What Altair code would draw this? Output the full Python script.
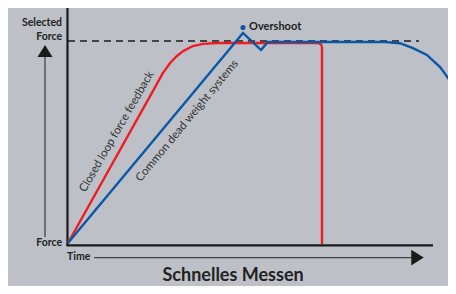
import altair as alt
import pandas as pd

BG = "#bdc1c7"
RED = "#ee1c25"
BLUE = "#0a57a7"
INK = "#222222"
FONT = "Lato"

# ---- data (Time in arbitrary units, Force in % of selected force) ----
red_time = [0, 34.3, 37.4, 40.2, 42.9, 45.3, 49.2, 53.1, 58.7, 98.4, 99.6, 100, 100]
red_force = [0, 77.2, 84.2, 89.1, 92.6, 95.0, 97.5, 98.6, 99.0, 99.0, 98.3, 97.0, -0.5]
blue_time = [0, 68.9, 76.0, 78.7, 124.8, 130.7, 135.8, 141.3, 146.5, 151.6, 154.3]
blue_force = [0, 104.0, 95.5, 99.5, 99.5, 98.9, 96.5, 93.1, 87.1, 78.2, 73.3]
selected_force = 100
dash_end_time = 138.2
overshoot_time = 68.9
overshoot_force = 106.7

X_DOMAIN = [-23.62, 149.61]
Y_DOMAIN = [-21.29, 116.34]

xs = alt.Scale(domain=X_DOMAIN, nice=False, zero=False)
ys = alt.Scale(domain=Y_DOMAIN, nice=False, zero=False)


def X(f="t"):
    return alt.X(f"{f}:Q", scale=xs, axis=None)


def Y(f="F"):
    return alt.Y(f"{f}:Q", scale=ys, axis=None)


red_df = pd.DataFrame({"t": red_time, "F": red_force, "i": range(len(red_time))})
blue_df = pd.DataFrame({"t": blue_time, "F": blue_force, "i": range(len(blue_time))})

red = alt.Chart(red_df).mark_line(color=RED, strokeWidth=2.4, clip=True, strokeJoin="round").encode(
    x=X(), y=Y(), order="i:Q")
blue = alt.Chart(blue_df).mark_line(color=BLUE, strokeWidth=2.4, clip=True, strokeJoin="miter").encode(
    x=X(), y=Y(), order="i:Q")

dash_df = pd.DataFrame({"t": [0], "t2": [dash_end_time], "F": [selected_force]})
dash = alt.Chart(dash_df).mark_rule(color="#1a1a1a", strokeWidth=1.3, strokeDash=[7, 5]).encode(
    x=X(), x2="t2:Q", y=Y())

axes_df = pd.DataFrame({
    "t": [-0.2, -0.6], "t2": [-0.2, 143.7],
    "F": [-1.5, -1.2], "F2": [117.0, -1.2],
})
axes = alt.Chart(axes_df).mark_rule(color="#1a1a1a", strokeWidth=2.2, clip=True).encode(
    x=X(), x2="t2:Q", y=Y(), y2="F2:Q")

shaft_df = pd.DataFrame({
    "t": [-9.06, 10.2], "t2": [-9.06, 135.4],
    "F": [92.1, -7.2], "F2": [3.0, -7.2],
})
shafts = alt.Chart(shaft_df).mark_rule(color="#444444", strokeWidth=1.3).encode(
    x=X(), x2="t2:Q", y=Y(), y2="F2:Q")

up_df = pd.DataFrame({"t": [-9.06], "F": [95.0]})
up_head = alt.Chart(up_df).mark_point(
    shape="M0,-0.8L1,0.8L-1,0.8Z", filled=True, size=225, color="#1a1a1a", opacity=1).encode(x=X(), y=Y())
right_df = pd.DataFrame({"t": [137.6], "F": [-7.2]})
right_head = alt.Chart(right_df).mark_point(
    shape="M0.8,0L-0.8,-1L-0.8,1Z", filled=True, size=246, color="#1a1a1a", opacity=1).encode(x=X(), y=Y())

dot_df = pd.DataFrame({"t": [overshoot_time], "F": [overshoot_force]})
dot = alt.Chart(dot_df).mark_circle(color=BLUE, size=26, opacity=1).encode(x=X(), y=Y())

# labels
left_labels = pd.DataFrame({
    "t": [-2.36, -2.36, -2.36],
    "F": [108.9, 102.2, 0.0],
    "txt": ["Selected", "Force", "Force"],
})
left_text = alt.Chart(left_labels).mark_text(
    align="right", baseline="middle", font=FONT, fontWeight="bold", fontSize=10.5, color=INK).encode(
    x=X(), y=Y(), text="txt:N")

time_df = pd.DataFrame({"t": [-0.4], "F": [-6.9], "txt": ["Time"]})
time_text = alt.Chart(time_df).mark_text(
    align="left", baseline="middle", font=FONT, fontWeight="bold", fontSize=10.5, color=INK).encode(
    x=X(), y=Y(), text="txt:N")

over_df = pd.DataFrame({"t": [71.3], "F": [106.9], "txt": ["Overshoot"]})
over_text = alt.Chart(over_df).mark_text(
    align="left", baseline="middle", font=FONT, fontWeight="bold", fontSize=11, color=INK).encode(
    x=X(), y=Y(), text="txt:N")

closed_df = pd.DataFrame({"t": [19.3], "F": [55.0], "txt": ["Closed loop force feedback"]})
closed_text = alt.Chart(closed_df).mark_text(
    align="center", baseline="middle", font=FONT, fontSize=11.5, angle=300, color="#333333").encode(
    x=X(), y=Y(), text="txt:N")

common_df = pd.DataFrame({"t": [47.0], "F": [60.4], "txt": ["Common dead weight systems"]})
common_text = alt.Chart(common_df).mark_text(
    align="center", baseline="middle", font=FONT, fontSize=11.5, angle=309.5, color="#333333").encode(
    x=X(), y=Y(), text="txt:N")

title_df = pd.DataFrame({"t": [65.0], "F": [-18.8], "txt": ["Schnelles Messen"]})
title_text = alt.Chart(title_df).mark_text(
    align="center", baseline="alphabetic", font=FONT, fontWeight="bold", fontSize=18, color=INK).encode(
    x=X(), y=Y(), text="txt:N")

chart = alt.layer(
    dash, axes, shafts, up_head, right_head, red, blue, dot,
    left_text, time_text, over_text, closed_text, common_text, title_text,
).properties(
    width=440, height=278, padding=0,
    autosize=alt.AutoSizeParams(type="none"),
    background=BG,
).configure_view(stroke=None)

chart.save("out.html", embed_options={"renderer": "svg", "actions": False})
